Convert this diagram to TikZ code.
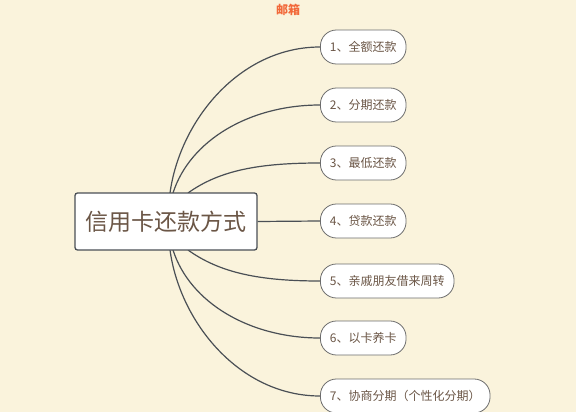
\documentclass[tikz,border=0pt]{standalone}
\usepackage{fontspec}
\setmainfont{Noto Sans CJK SC}
\usetikzlibrary{backgrounds}
\pgfdeclarelayer{bglayer}
\pgfdeclarelayer{linklayer}
\pgfsetlayers{bglayer,linklayer,main}
\definecolor{bg}{HTML}{FAF3DC}
\definecolor{txt}{HTML}{6B5646}
\definecolor{edge}{HTML}{4A4F55}
\definecolor{title}{HTML}{F2693A}
\begin{document}
\begin{tikzpicture}[x=1pt,y=-1pt,
  root/.style={draw=edge,line width=1.3pt,fill=white,rounded corners=2.5pt,
    minimum width=182pt,minimum height=57pt,inner sep=0pt,
    font=\fontsize{23}{26}\selectfont,text=txt},
  leaf/.style={draw=gray!85!black,line width=0.8pt,fill=white,rounded corners=16pt,
    minimum height=34pt,inner xsep=9.5pt,inner ysep=0pt,anchor=west,
    font=\fontsize{12}{14}\selectfont,text=txt},
  link/.style={draw=edge,line width=1.2pt}]
\begin{pgfonlayer}{bglayer}
\fill[bg] (0,0) rectangle (576,412);
\end{pgfonlayer}
\useasboundingbox (0,0) rectangle (576,412);
\node[font=\bfseries\fontsize{12}{14}\selectfont,text=title] (t) at (288,10) {邮箱};
\node[root] (r) at (166,221.5) {信用卡还款方式};
\coordinate (s1) at (170,193);
\coordinate (s2) at (173,193);
\coordinate (s3) at (188,193);
\coordinate (s5) at (188,250);
\coordinate (s6) at (173,250);
\coordinate (s7) at (170,250);
\node[leaf] (n1) at (320,47) {1、全额还款};
\node[leaf] (n2) at (320,105) {2、分期还款};
\node[leaf] (n3) at (320,163) {3、最低还款};
\node[leaf] (n4) at (320,221) {4、贷款还款};
\node[leaf] (n5) at (320,281) {5、亲戚朋友借来周转};
\node[leaf] (n6) at (320,338) {6、以卡养卡};
\node[leaf] (n7) at (320,396) {7、协商分期（个性化分期）};
\begin{pgfonlayer}{linklayer}
\draw[link] (s1) .. controls (180,120) and (240,47) .. (n1.west);
\draw[link] (s2) .. controls (190,140) and (250,105) .. (n2.west);
\draw[link] (s3) .. controls (220,170) and (260,163) .. (n3.west);
\draw[link] (r.east) -- (n4.west);
\draw[link] (s5) .. controls (220,273) and (260,281) .. (n5.west);
\draw[link] (s6) .. controls (190,303) and (250,338) .. (n6.west);
\draw[link] (s7) .. controls (180,323) and (240,396) .. (n7.west);
\end{pgfonlayer}
\end{tikzpicture}
\end{document}
